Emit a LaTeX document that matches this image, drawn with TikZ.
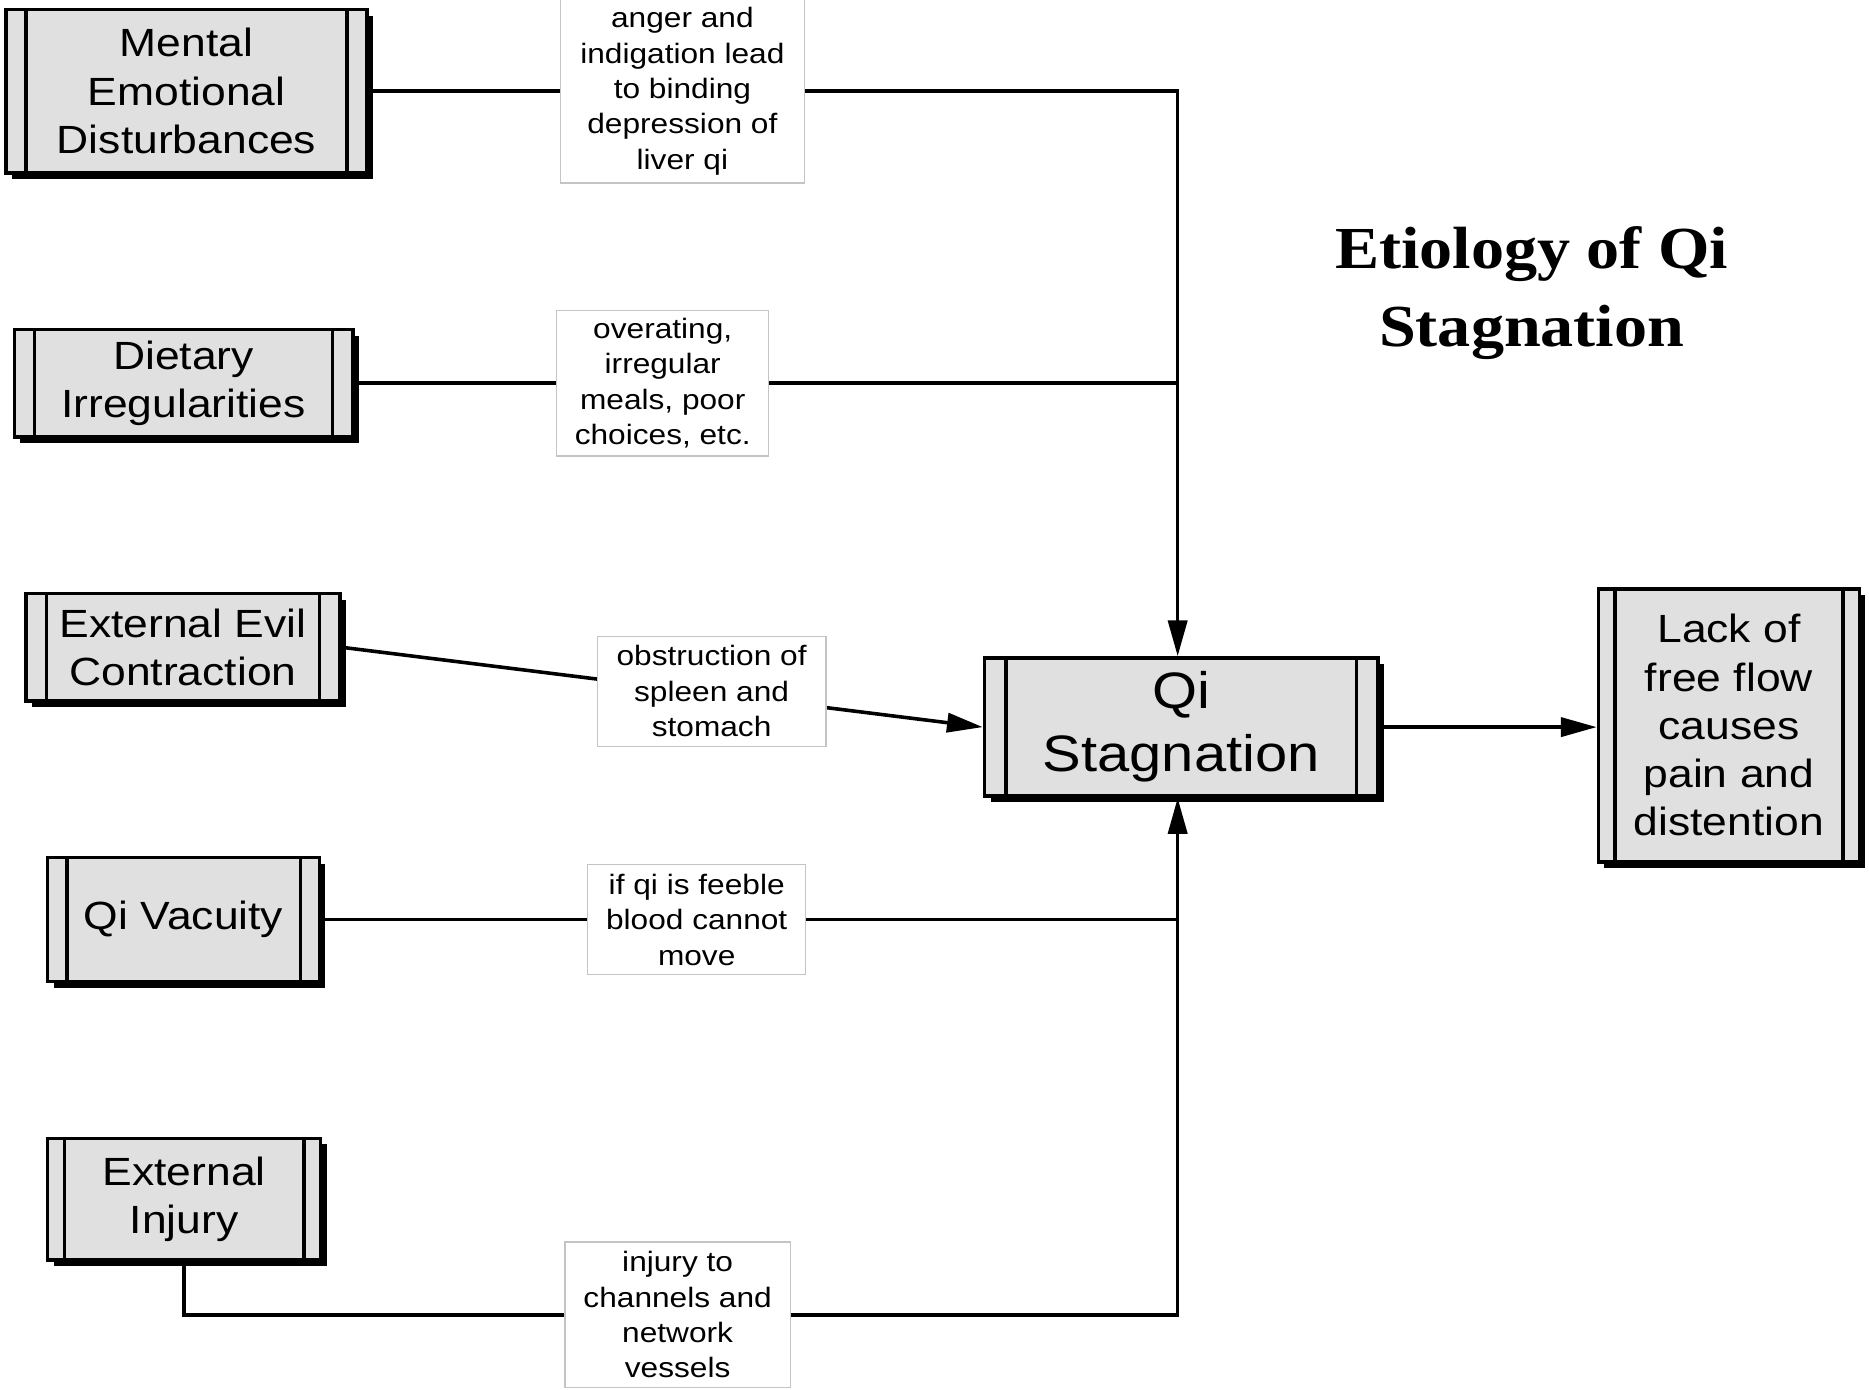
\documentclass[tikz,border=0pt]{standalone}
\usepackage{fontspec}
\newfontfamily\sfb[FakeStretch=1.13]{Liberation Sans}
\newfontfamily\ttlfont[FakeStretch=1.11]{Liberation Serif}
\usetikzlibrary{arrows.meta,shadows,backgrounds}
\definecolor{boxgray}{HTML}{E0E0E0}
\definecolor{lblgray}{HTML}{C4C4C4}
\begin{document}
\begin{tikzpicture}[x=1pt,y=-1pt,
  procbox/.style={draw=black, line width=3pt, fill=boxgray, inner sep=0pt, align=center,
    font=\sfb\fontsize{33}{40.5}\selectfont,
    drop shadow={shadow xshift=5pt, shadow yshift=-5pt, opacity=1, fill=black},
    path picture={
      \draw[line width=3pt] ([xshift=#1]path picture bounding box.north west) -- ([xshift=#1]path picture bounding box.south west);
      \draw[line width=3pt] ([xshift=-#1]path picture bounding box.north east) -- ([xshift=-#1]path picture bounding box.south east);
    }},
  procbox/.default=17pt,
  lbl/.style={draw=lblgray, line width=1pt, fill=white, inner sep=0pt, align=center,
    font=\sfb\fontsize{23.5}{29.7}\selectfont},
  conn/.style={line width=3pt},
  arr/.style={conn, -{Triangle[length=30pt,width=16pt]}}]
\useasboundingbox (0,0) rectangle (1568,1165.3);

% boxes
\node[procbox, minimum width=303pt, minimum height=137pt] (mental) at (156.5,76.5) {Mental\\Emotional\\Disturbances};
\node[procbox, minimum width=284pt, minimum height=90pt] (diet) at (154,321.5) {Dietary\\Irregularities};
\node[procbox, minimum width=263pt, minimum height=90pt] (evil) at (153.5,543) {External Evil\\Contraction};
\node[procbox=16pt, minimum width=228pt, minimum height=104pt] (vac) at (154,771.5) {Qi Vacuity};
\node[procbox=14pt, minimum width=229pt, minimum height=102pt] (inj) at (154.5,1006) {External\\Injury};
\node[procbox=18pt, minimum width=330pt, minimum height=116pt, font=\sfb\fontsize{43}{53}\selectfont] (qs) at (991,610) {Qi\\Stagnation};
\node[procbox=14pt, minimum width=219pt, minimum height=229pt] (lack) at (1450.5,608.5) {Lack of\\free flow\\causes\\pain and\\distention};

% labels
\node[lbl, minimum width=205pt, minimum height=154pt] (l1) at (572.5,76.5) {anger and\\indigation lead\\to binding\\depression of\\liver qi};
\node[lbl, minimum width=178pt, minimum height=122pt] (l2) at (556,321.5) {overating,\\irregular\\meals, poor\\choices, etc.};
\node[lbl, minimum width=192pt, minimum height=92pt] (l3) at (597,580) {obstruction of\\spleen and\\stomach};
\node[lbl, minimum width=183pt, minimum height=92pt] (l4) at (584.5,771.5) {if qi is feeble\\blood cannot\\move};
\node[lbl, minimum width=189pt, minimum height=122pt] (l5) at (568.5,1103) {injury to\\channels and\\network\\vessels};

% title
\node[font=\ttlfont\bfseries\fontsize{50}{65}\selectfont, align=center, inner sep=0pt] (title) at (1285,246) {Etiology of Qi\\Stagnation};

\coordinate (j1) at (988,76.5);
\coordinate (j4) at (988,771.5);

\begin{scope}[on background layer]
\fill[white] (0,0) rectangle (1568,1165.3);
\draw[conn] (mental.east) -- (l1.west);
\draw[arr] (l1.east) -- (j1) -- (qs.north -| j1);
\draw[conn] (diet.east) -- (l2.west);
\draw[conn] (l2.east) -- (l2.east -| j1);
\draw[arr] (evil.east) -- (qs.west);
\draw[conn] (vac.east) -- (l4.west);
\draw[arr] (l4.east) -- (j4) -- (qs.south -| j4);
\draw[conn] (inj.south) -- (inj.south |- l5.west) -- (l5.west);
\draw[conn] (l5.east) -- (l5.east -| j4) -- (j4);
\draw[arr] (qs.east) -- (qs.east -| lack.west);
\end{scope}
\end{tikzpicture}
\end{document}
